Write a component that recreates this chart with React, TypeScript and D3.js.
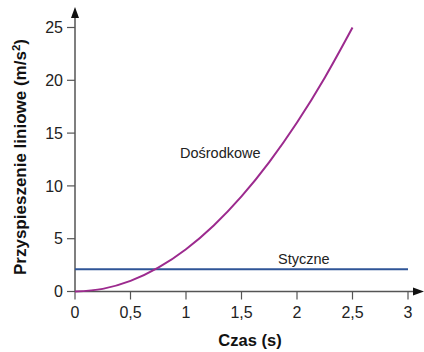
import React from "react"
import * as d3 from "d3"

// values
const times = [0, 0.25, 0.5, 0.75, 1, 1.25, 1.5, 1.75, 2, 2.25, 2.5]
const centripetal = [0, 0.25, 1, 2.25, 4, 6.25, 9, 12.25, 16, 20.25, 25]
const tangentTimes = [0, 3]
const tangential = [2.1, 2.1]
const xTicks = [0, 0.5, 1, 1.5, 2, 2.5, 3]
const yTicks = [0, 5, 10, 15, 20, 25]

const W = 424
const H = 352
const font = "'Liberation Sans', Arial, Helvetica, sans-serif"
const fmt = (v: number) => String(v).replace(".", ",")

const App: React.FC = () => {
  const x = d3.scaleLinear().domain([0, 3]).range([75, 408])
  const y = d3.scaleLinear().domain([0, 25]).range([291.5, 27.5])

  const line = d3
    .line<[number, number]>()
    .x((d) => x(d[0]))
    .y((d) => y(d[1]))
    .curve(d3.curveMonotoneX)

  const curvePts = times.map((t, i) => [t, centripetal[i]] as [number, number])
  const flatPts = tangentTimes.map((t, i) => [t, tangential[i]] as [number, number])

  const axisColor = "#555"
  const x0 = x(0)
  const y0 = y(0)

  return (
    <div style={{ position: "absolute", left: 0, top: 0 }}>
      <svg width={W} height={H} fontFamily={font}>
        <rect width={W} height={H} fill="#fff" />

        {/* y axis */}
        <line x1={x0} x2={x0} y1={y0} y2={16} stroke={axisColor} strokeWidth={1.5} />
        <path d={`M${x0 - 4},${18} L${x0},${7} L${x0 + 4},${18} Z`} fill="#111" />
        {yTicks.map((v) => (
          <g key={v}>
            <line x1={x0 - 8} x2={x0} y1={y(v)} y2={y(v)} stroke={axisColor} strokeWidth={1.2} />
            <text x={x0 - 12} y={y(v)} dy="0.36em" textAnchor="end" fontSize={16} fill="#222">
              {v}
            </text>
          </g>
        ))}

        {/* x axis */}
        <line x1={x0} x2={415} y1={y0} y2={y0} stroke={axisColor} strokeWidth={1.5} />
        <path d={`M${413},${y0 - 4} L${424},${y0} L${413},${y0 + 4} Z`} fill="#111" />
        {xTicks.map((v) => (
          <g key={v}>
            <line x1={x(v)} x2={x(v)} y1={y0} y2={y0 + 8} stroke={axisColor} strokeWidth={1.2} />
            <text x={x(v)} y={318} textAnchor="middle" fontSize={16} fill="#222">
              {fmt(v)}
            </text>
          </g>
        ))}

        {/* series */}
        <path d={line(flatPts) || ""} fill="none" stroke="#2f5597" strokeWidth={2} />
        <path d={line(curvePts) || ""} fill="none" stroke="#9c2a8e" strokeWidth={2} />

        <text x={180} y={158} fontSize={14.5} fill="#222">Dośrodkowe</text>
        <text x={278} y={264} fontSize={14.5} fill="#222">Styczne</text>

        {/* titles */}
        <text
          transform={`translate(26,157) rotate(-90)`}
          textAnchor="middle"
          fontSize={17}
          fontWeight="bold"
          fill="#111"
        >
          Przyspieszenie liniowe (m/s<tspan dy="-6" fontSize={11.5}>2</tspan><tspan dy="6">)</tspan>
        </text>
        <text x={250} y={346} textAnchor="middle" fontSize={16.5} fontWeight="bold" fill="#111">
          Czas (s)
        </text>
      </svg>
    </div>
  )
}

export default App
